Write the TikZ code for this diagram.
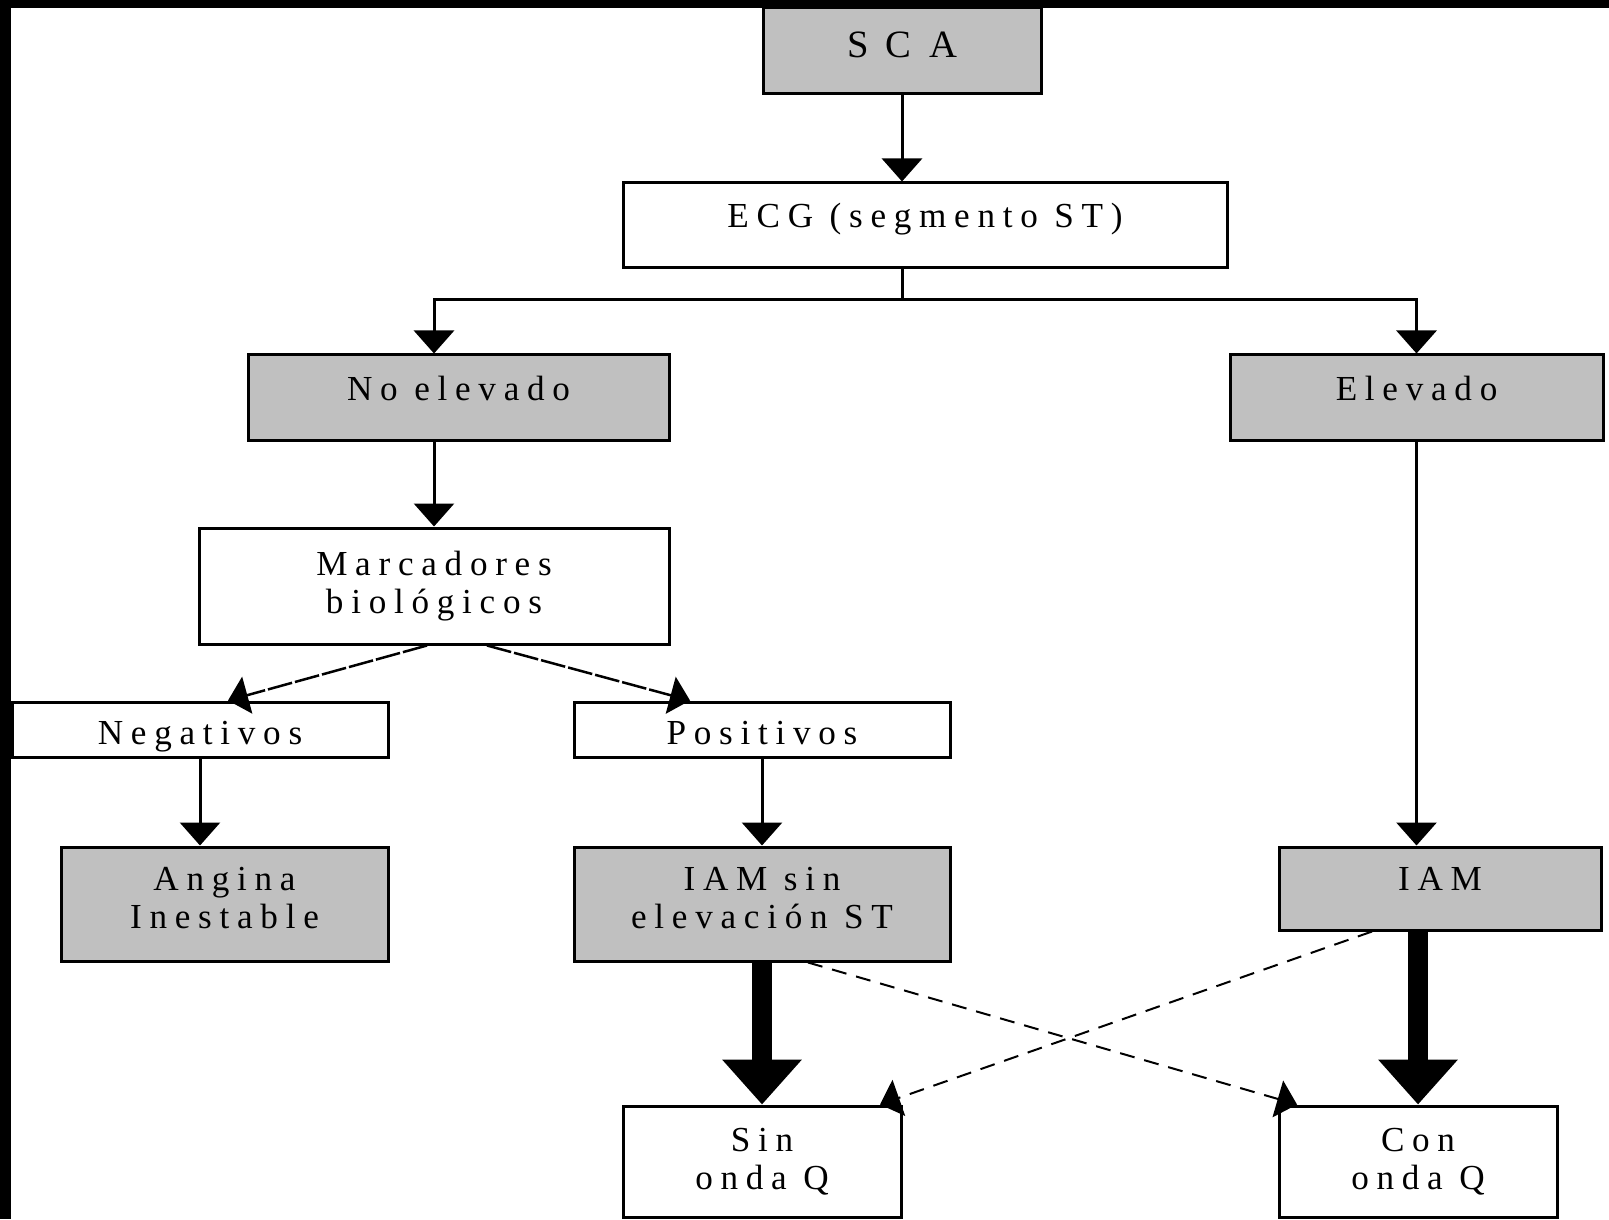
\documentclass[tikz,border=0pt]{standalone}
\usepackage{fontspec}
\setmainfont{Liberation Serif}[LetterSpace=22]
\usetikzlibrary{arrows.meta}

\definecolor{boxgray}{RGB}{192,192,192}
\tikzstyle{graybox} = [draw,fill=boxgray,line width=0.03cm,inner sep=0pt,align=center,font=\fontsize{10}{10.8}\selectfont]
\tikzstyle{whitebox} = [draw,fill=white,line width=0.03cm,inner sep=0pt,align=center,font=\fontsize{10}{10.8}\selectfont]
\tikzstyle{raised} = [text depth=0.2cm]
\tikzstyle{halfraised} = [text depth=0.12cm]
\tikzstyle{lowered} = [text height=0.3cm,text depth=0cm]
\tikzstyle{arr} = [line width=0.03cm,-{Triangle[width=0.4cm,length=0.23cm]}]
\tikzstyle{longdash} = [line width=0.025cm,dash pattern=on 0.25cm off 0.03cm,-{Triangle[width=0.38cm,length=0.2cm]}]
\tikzstyle{dasharr} = [line width=0.02cm,dash pattern=on 0.15cm off 0.1cm,-{Triangle[width=0.38cm,length=0.2cm]}]
\tikzstyle{thickarr} = [line width=0.2cm,-{Triangle[width=0.77cm,length=0.45cm]}]

\begin{document}
\begin{tikzpicture}
		\useasboundingbox (0,0) rectangle (16.09,-12.19);
		\fill[black] (0,0) rectangle (16.09,-0.08);
		\fill[black] (0,0) rectangle (0.11,-12.19);

		\node[graybox,halfraised,minimum width=2.78cm,minimum height=0.86cm] (n1) at (9.02,-0.51) {\fontsize{11}{12}\selectfont\addfontfeature{LetterSpace=45}SCA};
		\node[whitebox,raised,minimum width=6.04cm,minimum height=0.85cm] (n2) at (9.25,-2.255) {ECG (segmento ST)};
		\node[graybox,raised,minimum width=4.21cm,minimum height=0.86cm] (n3) at (4.585,-3.98) {No elevado};
		\node[graybox,raised,minimum width=3.73cm,minimum height=0.86cm] (n4) at (14.165,-3.98) {Elevado};
		\node[whitebox,minimum width=4.70cm,minimum height=1.16cm] (n5) at (4.34,-5.86) {Marcadores\\biológicos};
		\node[whitebox,lowered,minimum width=3.76cm,minimum height=0.55cm] (n6) at (2.00,-7.295) {Negativos};
		\node[whitebox,lowered,minimum width=3.76cm,minimum height=0.55cm] (n7) at (7.62,-7.295) {Positivos};
		\node[graybox,halfraised,minimum width=3.27cm,minimum height=1.14cm] (n8) at (2.245,-9.04) {Angina\\Inestable};
		\node[graybox,halfraised,minimum width=3.76cm,minimum height=1.14cm] (n9) at (7.62,-9.04) {IAM sin\\elevación ST};
		\node[graybox,raised,minimum width=3.22cm,minimum height=0.83cm] (n10) at (14.40,-8.885) {IAM};
		\node[whitebox,minimum width=2.78cm,minimum height=1.11cm] (n11) at (7.62,-11.615) {Sin\\onda Q};
		\node[whitebox,minimum width=2.78cm,minimum height=1.11cm] (n12) at (14.18,-11.615) {Con\\onda Q};

		\draw[arr] (n1.south) -- (n1.south |- n2.north);
		\draw[arr] (n1.south |- n2.south) -- ++(0,-0.3) -| (n5.north |- n3.north);
		\draw[arr] (n1.south |- n2.south) -- ++(0,-0.3) -| (n4.north);
		\draw[arr] (n5.north |- n3.south) -- (n5.north);
		\draw[arr] (n4.south) -- (n4.south |- n10.north);
		\draw[longdash] ([xshift=-0.07cm]n5.south) -- ([xshift=0.28cm]n6.north);
		\draw[longdash] ([xshift=0.53cm]n5.south) -- ([xshift=-0.72cm]n7.north);
		\draw[arr] (n6.south) -- (n6.south |- n8.north);
		\draw[arr] (n7.south) -- (n9.north);

		\draw[thickarr] (n9.south) -- (n11.north);
		\draw[thickarr] (n12.north |- n10.south) -- (n12.north);
		\draw[dasharr] ([xshift=0.46cm]n9.south) -- ([xshift=-1.21cm]n12.north);
		\draw[dasharr] ([xshift=-0.68cm]n10.south) -- ([xshift=1.18cm]n11.north);
\end{tikzpicture}
\end{document}
